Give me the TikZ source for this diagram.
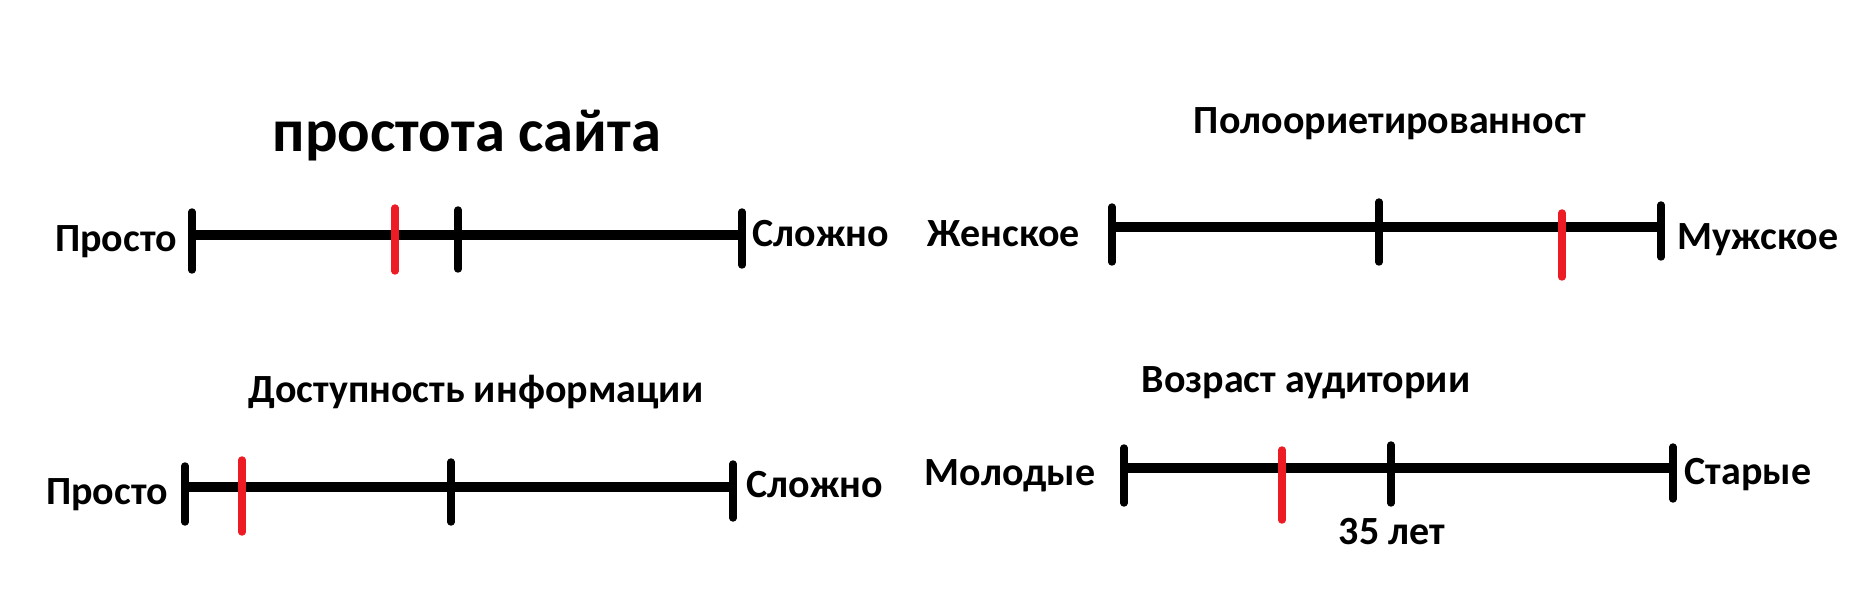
\documentclass[tikz,border=0pt]{standalone}
\usepackage{fontspec}
\setmainfont{Carlito}
\definecolor{paintred}{RGB}{237,28,36}
\tikzset{
  axis/.style={line width=5pt},
  tick/.style={line width=3.7pt, line cap=round},
  redtick/.style={tick, draw=paintred},
  lbl/.style={font=\fontsize{20pt}{23pt}\selectfont\bfseries, anchor=base, inner sep=0pt},
  bigtitle/.style={font=\fontsize{30.3pt}{35pt}\selectfont\bfseries, anchor=base, inner sep=0pt},
}
\begin{document}
\begin{tikzpicture}[x=0.5pt,y=-0.5pt]
\fill[white] (0,0) rectangle (1854,614);
\useasboundingbox (0,0) rectangle (1854,614);

% ---------- Panel 1: простота сайта ----------
\node[bigtitle] (t1) at (467,152) {простота сайта};
\coordinate (a1) at (192,235);
\coordinate (b1) at (742,235);
\draw[axis] (a1) -- (b1);
\draw[tick] (192,212) coordinate (a1t) -- (192,270) coordinate (a1b);
\draw[redtick] (395,208) coordinate (r1t) -- (395,271) coordinate (r1b);
\draw[tick] (458,210) coordinate (m1t) -- (458,269) coordinate (m1b);
\draw[tick] (742,212) coordinate (b1t) -- (742,265) coordinate (b1b);
\node[lbl] (l1) at (116,252) {Просто};
\node[lbl] (r1) at (821,247) {Сложно};

% ---------- Panel 2: Полоориетированност ----------
\node[lbl] (t2) at (1390,134) {Полоориетированност};
\coordinate (a2) at (1112,227);
\coordinate (b2) at (1661,227);
\draw[axis] (a2) -- (b2);
\draw[tick] (1112,207) coordinate (a2t) -- (1112,262) coordinate (a2b);
\draw[tick] (1379,202) coordinate (m2t) -- (1379,262) coordinate (m2b);
\draw[redtick] (1562,213) coordinate (r2t) -- (1562,277) coordinate (r2b);
\draw[tick] (1661,205) coordinate (b2t) -- (1661,257) coordinate (b2b);
\node[lbl] (l2) at (1004,247) {Женское};
\node[lbl] (r2) at (1758,250) {Мужское};

% ---------- Panel 3: Доступность информации ----------
\node[lbl] (t3) at (476,403) {Доступность информации};
\coordinate (a3) at (185,487);
\coordinate (b3) at (733,487);
\draw[axis] (a3) -- (b3);
\draw[tick] (185,466) coordinate (a3t) -- (185,522) coordinate (a3b);
\draw[redtick] (242,460) coordinate (r3t) -- (242,532) coordinate (r3b);
\draw[tick] (451,462) coordinate (m3t) -- (451,522) coordinate (m3b);
\draw[tick] (733,464) coordinate (b3t) -- (733,518) coordinate (b3b);
\node[lbl] (l3) at (107,505) {Просто};
\node[lbl] (r3) at (815,498) {Сложно};

% ---------- Panel 4: Возраст аудитории ----------
\node[lbl] (t4) at (1306,393) {Возраст аудитории};
\coordinate (a4) at (1124,468);
\coordinate (b4) at (1673,468);
\draw[axis] (a4) -- (b4);
\draw[tick] (1124,448) coordinate (a4t) -- (1124,503) coordinate (a4b);
\draw[redtick] (1282,450) coordinate (r4t) -- (1282,520) coordinate (r4b);
\draw[tick] (1391,445) coordinate (m4t) -- (1391,503) coordinate (m4b);
\draw[tick] (1673,447) coordinate (b4t) -- (1673,499) coordinate (b4b);
\node[lbl] (l4) at (1010,486) {Молодые};
\node[lbl] (r4) at (1748,485) {Старые};
\node[lbl] (n4) at (1392,545) {35 лет};
\end{tikzpicture}
\end{document}
